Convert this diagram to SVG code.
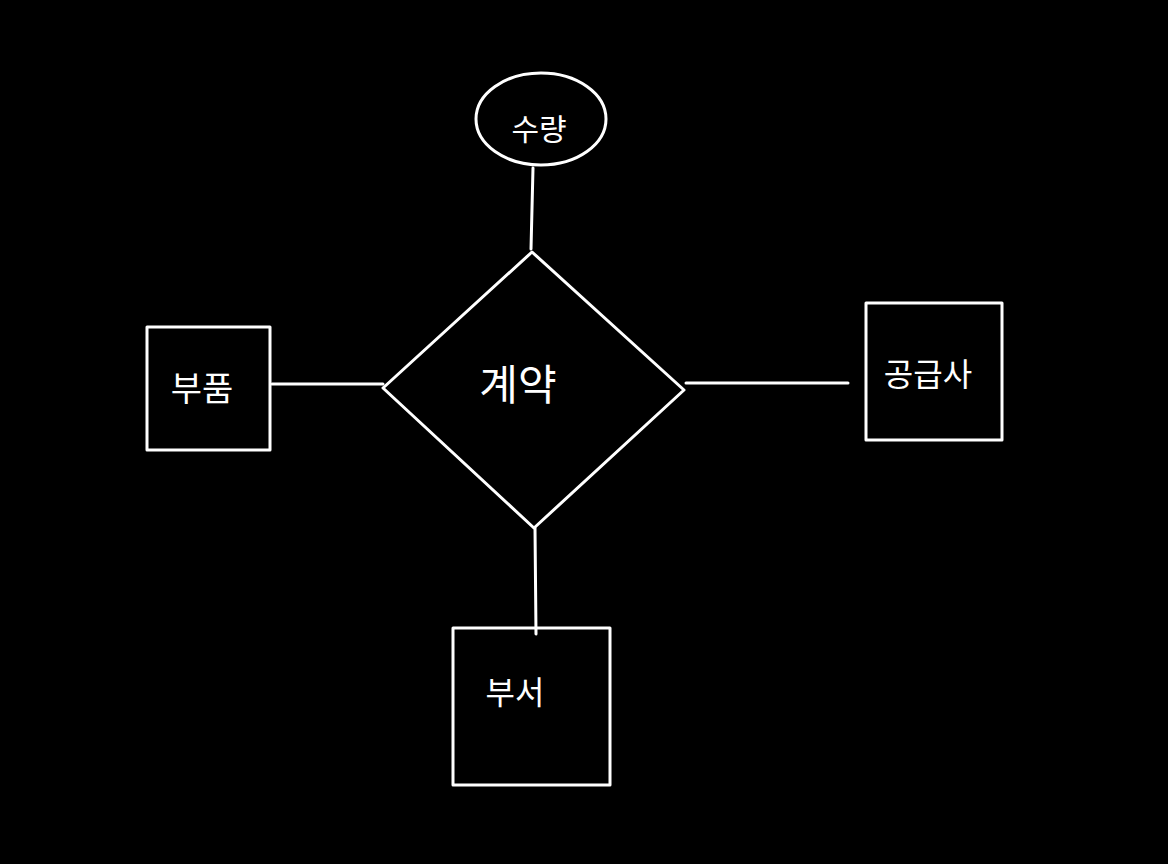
<svg xmlns="http://www.w3.org/2000/svg" width="1168" height="864" viewBox="0 0 1168 864">
<style>
.s{fill:none;stroke:#fff;stroke-width:3;stroke-linejoin:round;stroke-linecap:round}
.t{fill:#fff;font-family:"Noto Sans CJK KR","Noto Sans",sans-serif;text-anchor:middle;dominant-baseline:central}
</style>
<rect width="1168" height="864" fill="#000"/>
<g id="connectors">
<path class="s" d="M533 168 L531 249"/>
<path class="s" d="M272 384 L383 384"/>
<path class="s" d="M686 383 L848 383"/>
<path class="s" d="M535 528 L536 634"/>
</g>
<g id="attr-quantity">
<ellipse class="s" cx="541" cy="119" rx="65" ry="46"/>
<text class="t" x="539" y="127" font-size="30">수량</text>
</g>
<g id="rel-contract">
<polygon class="s" points="532,252 684,390 534,528 383,388"/>
<text class="t" x="518" y="381" font-size="42">계약</text>
</g>
<g id="ent-part">
<rect class="s" x="147" y="327" width="123" height="123"/>
<text class="t" x="202" y="386" font-size="34">부품</text>
</g>
<g id="ent-supplier">
<rect class="s" x="866" y="303" width="136" height="137"/>
<text class="t" x="928" y="372" font-size="32">공급사</text>
</g>
<g id="ent-dept">
<rect class="s" x="453" y="628" width="157" height="157"/>
<text class="t" x="515" y="690" font-size="32">부서</text>
</g>
</svg>
